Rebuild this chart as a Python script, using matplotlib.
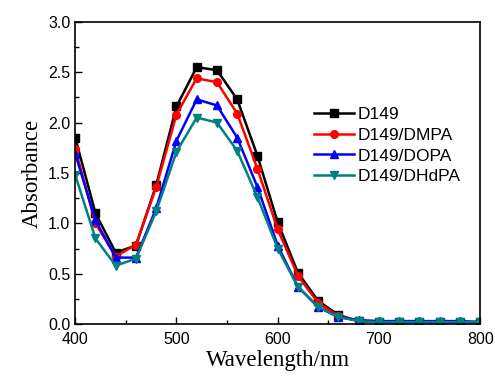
import numpy as np
import matplotlib
matplotlib.use("Agg")
import matplotlib.pyplot as plt
from matplotlib.ticker import MultipleLocator, FormatStrFormatter

# wavelength points (nm), one marker every 20 nm
wl = [400, 420, 440, 460, 480, 500, 520, 540, 560, 580, 600,
      620, 640, 660, 680, 700, 720, 740, 760, 780, 800]

d149 = [1.85, 1.10, 0.71, 0.78, 1.38, 2.16, 2.55, 2.52, 2.23, 1.67, 1.01,
        0.51, 0.23, 0.09, 0.03, 0.02, 0.02, 0.02, 0.02, 0.02, 0.02]
dmpa = [1.74, 1.00, 0.67, 0.79, 1.36, 2.08, 2.44, 2.40, 2.09, 1.54, 0.94,
        0.48, 0.21, 0.08, 0.03, 0.02, 0.02, 0.02, 0.02, 0.02, 0.02]
dopa = [1.69, 1.03, 0.66, 0.66, 1.15, 1.82, 2.23, 2.17, 1.85, 1.36, 0.78,
        0.37, 0.17, 0.07, 0.04, 0.03, 0.03, 0.03, 0.03, 0.03, 0.02]
dhdpa = [1.48, 0.85, 0.58, 0.65, 1.12, 1.71, 2.05, 2.00, 1.72, 1.26, 0.75,
         0.37, 0.17, 0.07, 0.03, 0.02, 0.02, 0.02, 0.02, 0.02, 0.02]

labels = ["D149", "D149/DMPA", "D149/DOPA", "D149/DHdPA"]
colors = ["black", "#ff0000", "#0000ff", "#008080"]
markers = ["s", "o", "^", "v"]

fig = plt.figure(figsize=(4.95, 3.76), dpi=100)
ax = fig.add_axes([0.152, 0.138, 0.818, 0.804])

for ys, lab, c, m in zip([d149, dmpa, dopa, dhdpa], labels, colors, markers):
    ax.plot(wl, ys, color=c, marker=m, markersize=5.5, linewidth=1.8, label=lab)

ax.set_xlim(400, 800)
ax.set_ylim(0, 3.0)
ax.xaxis.set_major_locator(MultipleLocator(100))
ax.xaxis.set_minor_locator(MultipleLocator(50))
ax.yaxis.set_major_locator(MultipleLocator(0.5))
ax.yaxis.set_minor_locator(MultipleLocator(0.25))
ax.yaxis.set_major_formatter(FormatStrFormatter("%.1f"))
ax.tick_params(which="both", direction="in", top=False, right=False)
ax.tick_params(which="major", length=5, width=1, labelsize=11.5)
ax.tick_params(axis="x", which="major", pad=6)
ax.tick_params(which="minor", length=3, width=1)
for lbl in ax.get_xticklabels() + ax.get_yticklabels():
    lbl.set_fontfamily("Liberation Sans")
for s in ax.spines.values():
    s.set_linewidth(1.2)

ax.set_xlabel("Wavelength/nm", fontfamily="Liberation Serif", fontsize=16.5, labelpad=2)
ax.set_ylabel("Absorbance", fontfamily="Liberation Serif", fontsize=16.5, labelpad=4)

leg = ax.legend(loc="upper right", bbox_to_anchor=(0.99, 0.77), frameon=False,
                prop={"family": "Liberation Sans", "size": 12.5},
                handlelength=2.3, handletextpad=0.2, labelspacing=0.32)

fig.savefig("out.png", dpi=100)
